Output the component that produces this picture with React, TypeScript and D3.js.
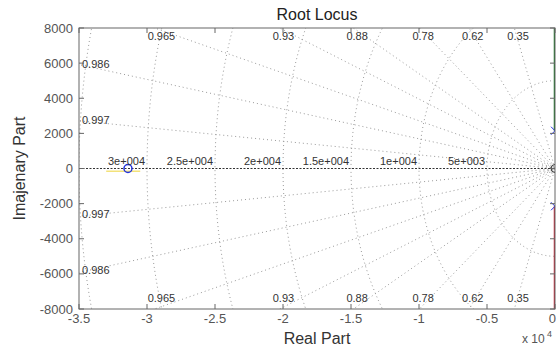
import React from "react";
import * as d3 from "d3";

const xTicks = [-35000, -30000, -25000, -20000, -15000, -10000, -5000, 0];
const xTickLabels = ["-3.5", "-3", "-2.5", "-2", "-1.5", "-1", "-0.5", "0"];
const yTicks = [-8000, -6000, -4000, -2000, 0, 2000, 4000, 6000, 8000];
const dampingTop = [0.35, 0.62, 0.78, 0.88, 0.93, 0.965];
const dampingLeft = [0.986, 0.997];
const freqs = [5000, 10000, 15000, 20000, 25000, 30000, 35000];
const freqLabels = ["5e+003", "1e+004", "1.5e+004", "2e+004", "2.5e+004", "3e+004"];
const poles = [
  { re: 0, im: 2150 },
  { re: 0, im: -2150 },
];
const zeros = [{ re: -31400, im: 0 }];
const branchUp = [
  { re: 0, im: 2150 },
  { re: 0, im: 9000 },
];
const branchDown = [
  { re: 0, im: -2150 },
  { re: 0, im: -9000 },
];
const branchReal = [
  { re: -33000, im: -150 },
  { re: -30500, im: -150 },
];

const W = 557;
const H = 348;
const L = 79, R = 555, T = 28, B = 309;

export default function App() {
  const x = d3.scaleLinear().domain([-35000, 0]).range([L, R]);
  const y = d3.scaleLinear().domain([-8000, 8000]).range([B, T]);
  const lineGen = d3
    .line<{ re: number; im: number }>()
    .x((d) => x(d.re))
    .y((d) => y(d.im));

  const arcPath = (wn: number) => {
    const pts = d3.range(0, 181, 1).map((deg) => {
      const th = ((90 + deg) * Math.PI) / 180;
      return { re: wn * Math.cos(th), im: wn * Math.sin(th) };
    });
    return lineGen(pts) || "";
  };
  const zetaPath = (z: number) => {
    const r = 200000;
    const s = Math.sqrt(1 - z * z);
    return (
      lineGen([
        { re: -r * z, im: r * s },
        { re: 0, im: 0 },
        { re: -r * z, im: -r * s },
      ]) || ""
    );
  };

  const dot = { stroke: "#9a9a9a", strokeWidth: 1, strokeDasharray: "1 3", fill: "none" };
  const font = "Liberation Sans, Arial, sans-serif";
  const allZ = [...dampingTop, ...dampingLeft];

  return (
    <svg
      width={W}
      height={H}
      style={{ position: "absolute", left: 0, top: 0, background: "#fff" }}
      fontFamily={font}
    >
      <defs>
        <clipPath id="plotclip">
          <rect x={L} y={T} width={R - L} height={B - T} />
        </clipPath>
      </defs>
      <rect x={0} y={0} width={W} height={H} fill="#fff" />
      <g clipPath="url(#plotclip)">
        {freqs.map((f) => (
          <path key={"a" + f} d={arcPath(f)} style={dot} />
        ))}
        {allZ.map((z) => (
          <path key={"z" + z} d={zetaPath(z)} style={dot} />
        ))}
        <line
          x1={L}
          x2={R}
          y1={y(0)}
          y2={y(0)}
          stroke="#333"
          strokeWidth={1}
          strokeDasharray="2 1.5"
        />
        <path d={lineGen(branchReal) || ""} stroke="#f3e27a" strokeWidth={1.5} fill="none" />
        <path d={lineGen(branchUp) || ""} stroke="#1f7a2a" strokeWidth={2.5} fill="none" />
        <path d={lineGen(branchDown) || ""} stroke="#c8283a" strokeWidth={2.5} fill="none" />
        {poles.map((p, i) => (
          <g key={"p" + i} stroke="#2233dd" strokeWidth={1}>
            <line x1={x(p.re) - 4} x2={x(p.re) + 4} y1={y(p.im) - 4} y2={y(p.im) + 4} />
            <line x1={x(p.re) - 4} x2={x(p.re) + 4} y1={y(p.im) + 4} y2={y(p.im) - 4} />
          </g>
        ))}
        {zeros.map((p, i) => (
          <circle key={"zz" + i} cx={x(p.re)} cy={y(p.im)} r={4} fill="none" stroke="#2233dd" strokeWidth={1.5} />
        ))}
        <circle cx={x(0)} cy={y(0)} r={4} fill="none" stroke="#333" strokeWidth={1} />
      </g>

      {/* damping labels */}
      {dampingTop.map((z) => {
        const s = Math.sqrt(1 - z * z);
        const re = (-8000 * z) / s;
        return (
          <g key={"dl" + z} fontSize={11} fill="#333">
            <text x={x(re) - 7} y={T + 12}>{String(z)}</text>
            <text x={x(re) - 7} y={B - 7}>{String(z)}</text>
          </g>
        );
      })}
      {dampingLeft.map((z) => {
        const s = Math.sqrt(1 - z * z);
        const im = (35000 * s) / z;
        return (
          <g key={"dll" + z} fontSize={11} fill="#333">
            <text x={L + 3} y={y(im) + 3.5}>{String(z)}</text>
            <text x={L + 3} y={y(-im) + 1.5}>{String(z)}</text>
          </g>
        );
      })}
      {freqLabels.map((lab, i) => (
        <text key={"fl" + i} x={x(-freqs[i]) - 2} y={y(0) - 3.5} fontSize={11} fill="#333" textAnchor="end">
          {lab}
        </text>
      ))}

      {/* axes box */}
      <rect x={L} y={T} width={R - L} height={B - T} fill="none" stroke="#666" strokeWidth={1} />
      {xTicks.map((t) => (
        <g key={"xt" + t} stroke="#666">
          <line x1={x(t)} x2={x(t)} y1={B} y2={B - 5} />
          <line x1={x(t)} x2={x(t)} y1={T} y2={T + 5} />
        </g>
      ))}
      {yTicks.map((t) => (
        <g key={"yt" + t} stroke="#666">
          <line x1={L} x2={L + 5} y1={y(t)} y2={y(t)} />
          <line x1={R} x2={R - 5} y1={y(t)} y2={y(t)} />
        </g>
      ))}
      {xTicks.map((t, i) => {
        const last = i === xTicks.length - 1;
        return (
          <text
            key={"xl" + t}
            x={last ? W - 1 : x(t)}
            y={323}
            fontSize={13}
            fill="#555"
            textAnchor={last ? "end" : "middle"}
          >
            {xTickLabels[i]}
          </text>
        );
      })}
      {yTicks.map((t) => (
        <text key={"yl" + t} x={L - 6} y={y(t) + 4.5} fontSize={13} fill="#555" textAnchor="end">
          {String(t)}
        </text>
      ))}
      <text x={522} y={343} fontSize={12} fill="#555">x 10</text>
      <text x={547} y={337} fontSize={9} fill="#555">4</text>

      <text x={(L + R) / 2} y={20} fontSize={16} fill="#222" textAnchor="middle">
        Root Locus
      </text>
      <text x={(L + R) / 2} y={344} fontSize={16} fill="#333" textAnchor="middle">
        Real Part
      </text>
      <text
        transform={`translate(25,${(T + B) / 2}) rotate(-90)`}
        fontSize={16}
        fill="#333"
        textAnchor="middle"
      >
        Imajenary Part
      </text>
    </svg>
  );
}
